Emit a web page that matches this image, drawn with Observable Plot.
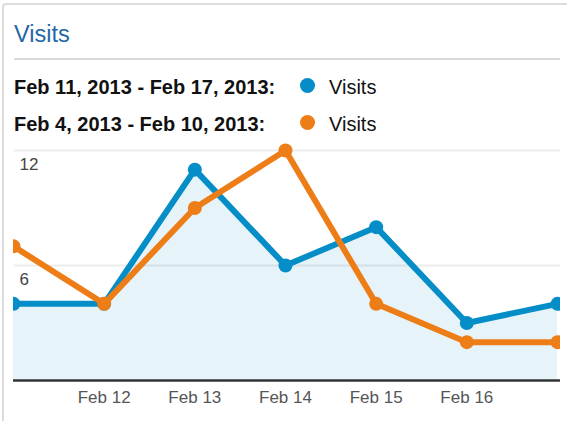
<!DOCTYPE html>
<html>
<head>
<meta charset="utf-8">
<script src="https://cdn.jsdelivr.net/npm/d3@7"></script>
<script src="https://cdn.jsdelivr.net/npm/@observablehq/plot@0.6"></script>
<style>
  html, body { margin: 0; padding: 0; background: #fff; }
  body { width: 567px; height: 421px; overflow: hidden; position: relative;
         font-family: "Liberation Sans", Arial, Helvetica, sans-serif; }
  .card { position: absolute; left: 2px; top: 3px; width: 620px; height: 500px;
          border-left: 2px solid #dcdcdc; border-top: 2px solid #dcdcdc;
          border-top-left-radius: 4px; box-sizing: border-box; }
  .title { position: absolute; left: 14px; top: 23.4px; font-size: 23.5px; line-height: 23.5px;
           color: #1f67a6; white-space: nowrap; }
  .rule { position: absolute; left: 14px; top: 58px; width: 546px; height: 2px; background: #d9d9d9; }
  .lg { position: absolute; font-size: 20px; line-height: 20px; white-space: nowrap; color: #111; }
  .lg.b { font-weight: bold; }
  .dot { position: absolute; width: 15px; height: 15px; border-radius: 50%; }
  #chart { position: absolute; left: 0; top: 130px; }
</style>
</head>
<body>
<div class="card"></div>
<div class="title">Visits</div>
<div class="rule"></div>
<div id="legend"></div>
<div id="chart"></div>
<script>
// ---- data ----
const days = ["2013-02-11", "2013-02-12", "2013-02-13", "2013-02-14", "2013-02-15", "2013-02-16", "2013-02-17"];
const thisWeek = [4, 4, 11, 6, 8, 3, 4];   // Feb 11 - Feb 17, 2013
const lastWeek = [7, 4, 9, 12, 4, 2, 2];   // Feb 4 - Feb 10, 2013
const seriesNames = ["Feb 11, 2013 - Feb 17, 2013:", "Feb 4, 2013 - Feb 10, 2013:"];
const seriesLabel = "Visits";
const xTicks = ["2013-02-12", "2013-02-13", "2013-02-14", "2013-02-15", "2013-02-16"];
const xTickLabels = ["Feb 12", "Feb 13", "Feb 14", "Feb 15", "Feb 16"];
const yTicks = [6, 12];
const colors = ["#058dc7", "#ed7e17"];

// ---- legend (HTML) ----
const legend = document.getElementById("legend");
const rowTops = [77, 113.7];
const dotCenters = [85.7, 122.3];
seriesNames.forEach((name, i) => {
  const t = document.createElement("div");
  t.className = "lg b"; t.style.left = "14px"; t.style.top = rowTops[i] + "px";
  t.textContent = name; legend.appendChild(t);
  const d = document.createElement("div");
  d.className = "dot"; d.style.left = (307 - 7.5) + "px"; d.style.top = (dotCenters[i] - 7.5) + "px";
  d.style.background = colors[i]; legend.appendChild(d);
  const v = document.createElement("div");
  v.className = "lg"; v.style.left = "329px"; v.style.top = (rowTops[i] + 0.3) + "px";
  v.textContent = seriesLabel; legend.appendChild(v);
});

// ---- chart ----
const rows = days.map((d, i) => ({date: new Date(d), a: thisWeek[i], b: lastWeek[i]}));
const tickDates = xTicks.map(d => new Date(d));
const labelOf = new Map(xTicks.map((d, i) => [+new Date(d), xTickLabels[i]]));

const chart = Plot.plot({
  width: 567,
  height: 291,
  marginTop: 0,
  marginBottom: 41,
  marginLeft: 13,
  marginRight: 7,
  style: {fontFamily: '"Liberation Sans", Arial, sans-serif', fontSize: "17px", background: "transparent", overflow: "visible"},
  x: {type: "utc", domain: [rows[0].date, rows[rows.length - 1].date], insetRight: 3},
  y: {domain: [0, 12], insetTop: 20},
  marks: [
    Plot.areaY(rows, {x: "date", y: "a", fill: "#e6f4fa"}),
    Plot.ruleY(yTicks, {stroke: "#000", strokeOpacity: 0.075, strokeWidth: 2, insetLeft: 1}),
    Plot.ruleY([0], {stroke: "#333", strokeWidth: 2.5}),
    Plot.text(yTicks, {y: d => d, frameAnchor: "left", dx: 6, dy: 13.6, textAnchor: "start", fill: "#444", fontSize: 17}),
    Plot.axisX({ticks: tickDates, tickSize: 0, tickPadding: 10, tickFormat: d => labelOf.get(+d), fill: "#555", fontSize: 17}),
    Plot.axisY({ticks: [], label: null, tickSize: 0}),
    Plot.line(rows, {x: "date", y: "a", stroke: colors[0], strokeWidth: 6, strokeLinejoin: "round", clip: "frame"}),
    Plot.dot(rows, {x: "date", y: "a", r: 7, fill: colors[0], clip: "frame"}),
    Plot.line(rows, {x: "date", y: "b", stroke: colors[1], strokeWidth: 6, strokeLinejoin: "round", clip: "frame"}),
    Plot.dot(rows, {x: "date", y: "b", r: 7, fill: colors[1], clip: "frame"})
  ]
});
document.getElementById("chart").appendChild(chart);
</script>
</body>
</html>
